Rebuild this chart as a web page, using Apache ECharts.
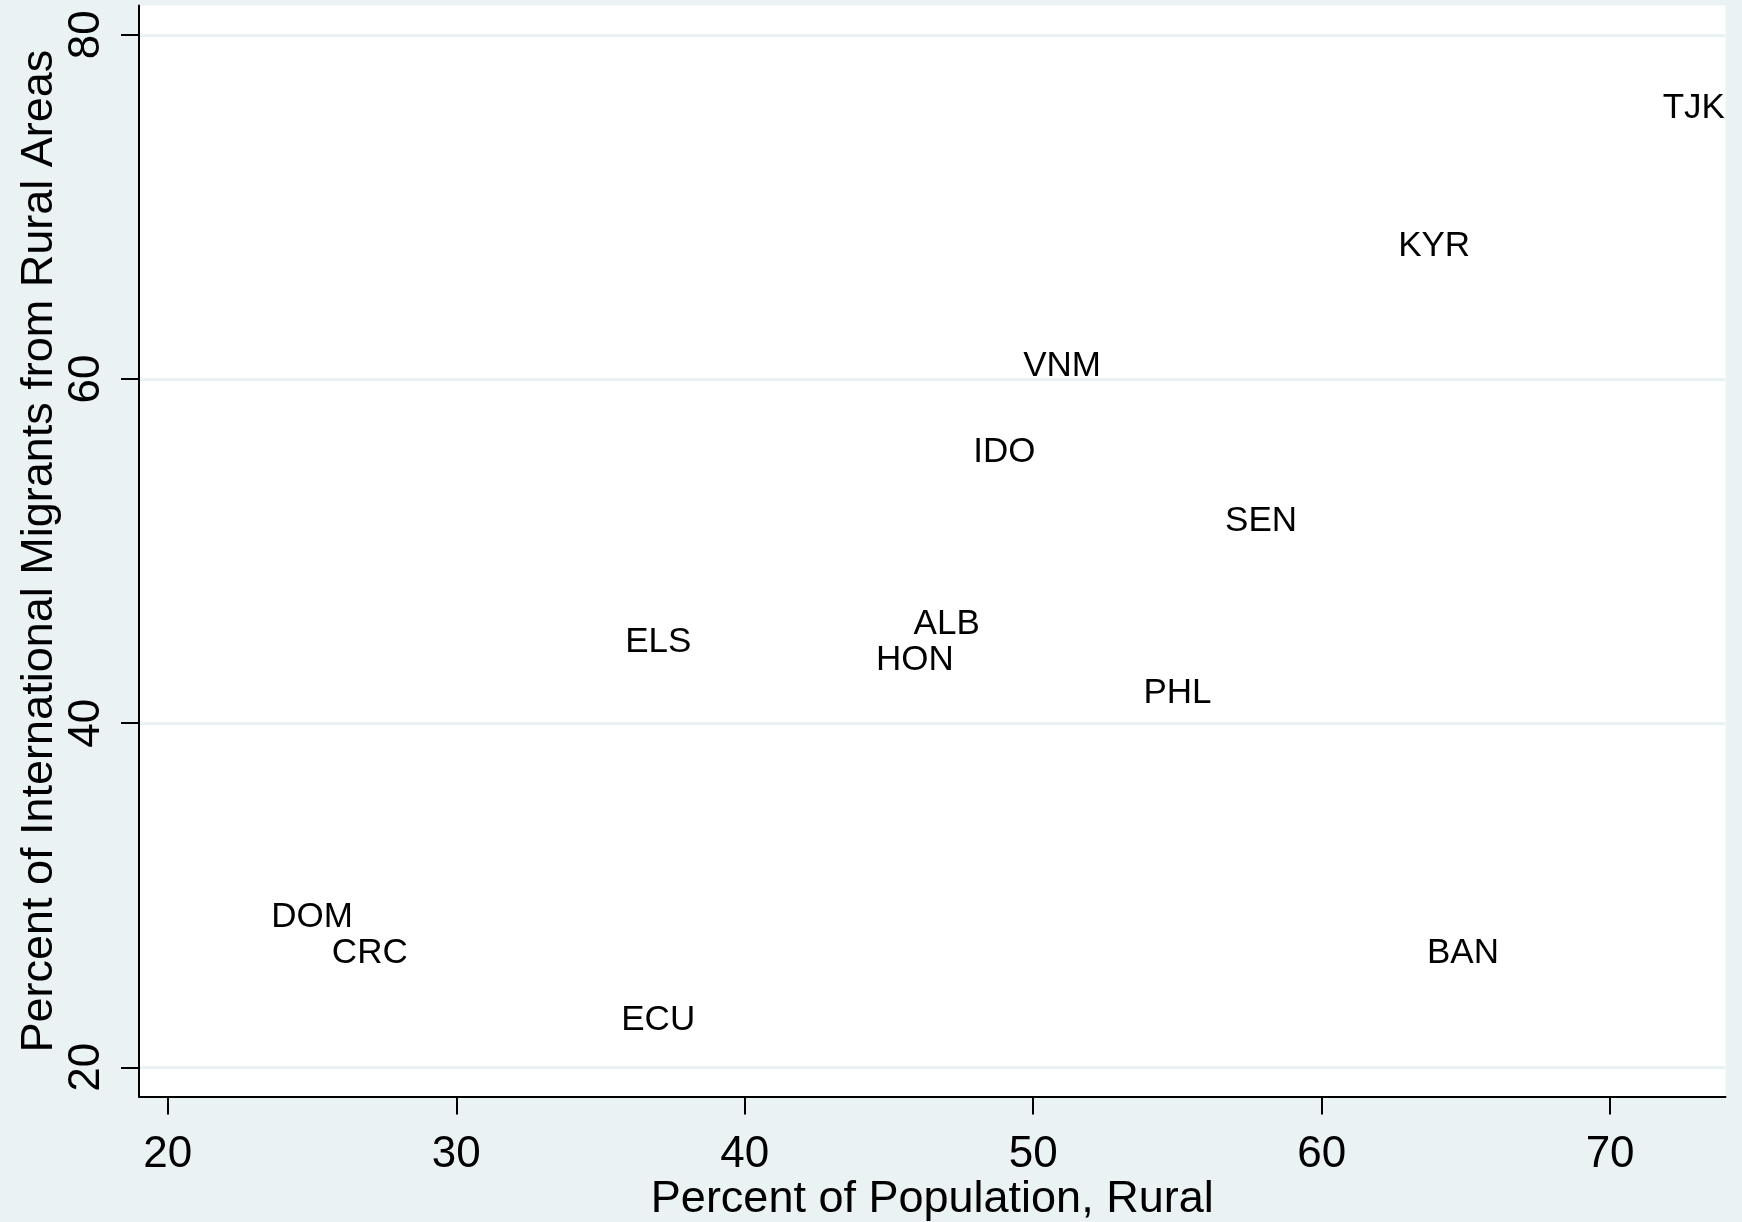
<!DOCTYPE html>
<html>
<head>
<meta charset="utf-8">
<script src="https://cdn.jsdelivr.net/npm/echarts@6/dist/echarts.min.js"></script>
<style>
html,body{margin:0;padding:0;background:#eaf2f3;}
#chart{width:1742px;height:1222px;}
</style>
</head>
<body>
<div id="chart"></div>
<script>
const countries = ['TJK','KYR','VNM','IDO','SEN','ALB','ELS','HON','PHL','DOM','CRC','BAN','ECU'];
const ruralPct   = [72.9, 63.9, 51.0, 49.0, 57.9, 47.0, 37.0, 45.9, 55.0, 25.0, 27.0, 64.9, 37.0];
const migrantPct = [75.9, 67.9, 60.9, 55.9, 51.9, 45.9, 44.9, 43.8, 41.9, 28.9, 26.8, 26.8, 22.9];
const xTicks = [20, 30, 40, 50, 60, 70];
const yTicks = [20, 40, 60, 80];

const points = countries.map((c, i) => ({ name: c, value: [ruralPct[i], migrantPct[i]] }));

const FONT = '"Liberation Sans", Arial, sans-serif';
const bg = '#eaf2f3';

const chart = echarts.init(document.getElementById('chart'), null, { renderer: 'canvas' });
chart.setOption({
  backgroundColor: bg,
  animation: false,
  grid: { left: 139, right: 16.5, top: 5.6, bottom: 125.4, outerBoundsMode: 'none', containLabel: false,
          show: true, backgroundColor: '#ffffff', borderWidth: 0 },
  xAxis: {
    type: 'value', min: 19, max: 74,
    name: 'Percent of Population, Rural', nameLocation: 'middle', nameGap: 80, nameMoveOverlap: false,
    nameTextStyle: { fontFamily: FONT, fontSize: 45, color: '#000' },
    axisLine: { show: true, onZero: false, lineStyle: { color: '#000', width: 2 } },
    axisTick: { show: true, length: 18, customValues: xTicks, lineStyle: { color: '#000', width: 2 } },
    axisLabel: { customValues: xTicks, margin: 36, fontFamily: FONT, fontSize: 44, color: '#000' },
    splitLine: { show: false }
  },
  yAxis: {
    type: 'value', min: 18.3, max: 81.7,
    name: 'Percent of International Migrants from Rural Areas', nameLocation: 'middle', nameGap: 77, nameRotate: 90,
    nameMoveOverlap: false,
    nameTextStyle: { fontFamily: FONT, fontSize: 45, color: '#000' },
    axisLine: { show: true, onZero: false, lineStyle: { color: '#000', width: 2 } },
    axisTick: { show: true, length: 18, customValues: yTicks, lineStyle: { color: '#000', width: 2 } },
    axisLabel: { customValues: yTicks, rotate: 90, margin: 30, fontFamily: FONT, fontSize: 44, color: '#000' },
    splitLine: { show: true, lineStyle: { color: bg, width: 3 } }
  },
  series: [{
    type: 'scatter',
    data: points,
    symbolSize: 0,
    itemStyle: { color: '#000000' },
    label: {
      show: true, position: 'inside', offset: [0, 3], formatter: p => p.name,
      fontFamily: FONT, fontSize: 35, color: '#000000', textBorderWidth: 0, opacity: 1
    },
    emphasis: { disabled: true }
  }]
});
</script>
</body>
</html>
